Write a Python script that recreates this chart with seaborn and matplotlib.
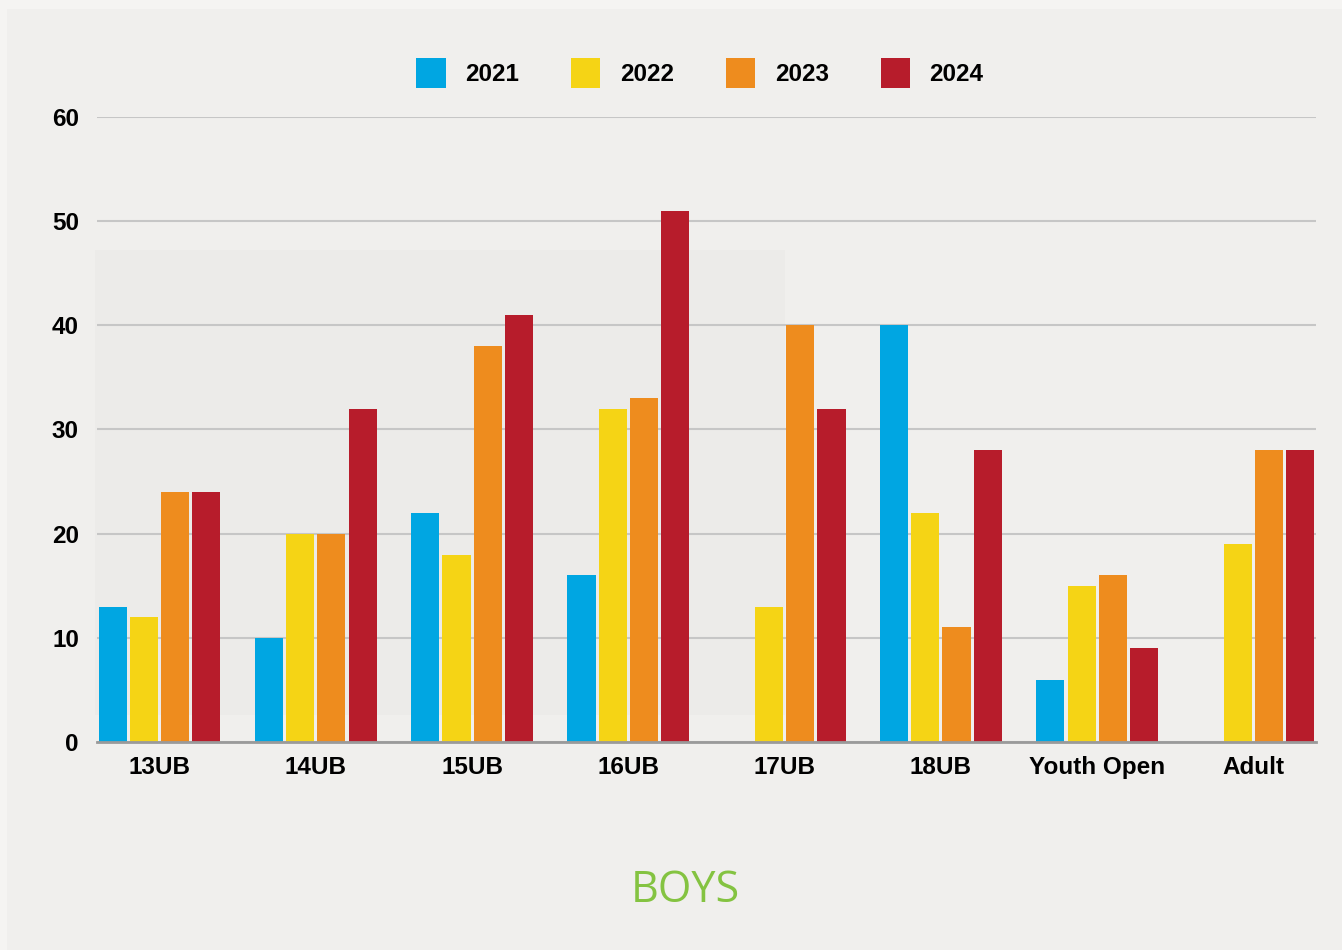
import pandas as pd
import matplotlib.pyplot as plt
import matplotlib.patches as mpatches
import seaborn as sns

categories = ['13UB', '14UB', '15UB', '16UB', '17UB', '18UB', 'Youth Open', 'Adult']
years = ['2021', '2022', '2023', '2024']
v2021 = [13, 10, 22, 16, None, 40, 6, None]
v2022 = [12, 20, 18, 32, 13, 22, 15, 19]
v2023 = [24, 20, 38, 33, 40, 11, 16, 28]
v2024 = [24, 32, 41, 51, 32, 28, 9, 28]
colors = ['#00a6e2', '#f5d415', '#ee8c1e', '#b71c2b']

BG = '#f0efed'

rows = []
for year, vals in zip(years, [v2021, v2022, v2023, v2024]):
    for cat, v in zip(categories, vals):
        rows.append([cat, year, v])
df = pd.DataFrame(rows, columns=['category', 'year', 'count'])

sns.set_style('white')
plt.rcParams['font.family'] = ['Liberation Sans', 'DejaVu Sans']

fig = plt.figure(figsize=(13.42, 9.5), dpi=100, facecolor='#f5f4f2')
# inner panel + faint shaded block behind the left half
fig.patches.append(mpatches.Rectangle((7 / 1342, 0), 1 - 7 / 1342, 1 - 9 / 950,
                                      transform=fig.transFigure, facecolor=BG,
                                      edgecolor='none', zorder=-10))
fig.patches.append(mpatches.Rectangle((95 / 1342, 1 - 715 / 950), 690 / 1342, 465 / 950,
                                      transform=fig.transFigure, facecolor='#ecebe9',
                                      edgecolor='none', zorder=-5))
ax = fig.add_axes([97 / 1342, 208 / 950, 1219 / 1342, 625 / 950])
ax.set_facecolor('none')

sns.barplot(data=df, x='category', y='count', hue='year', palette=colors,
            width=0.8, gap=0.1, ax=ax, saturation=1, legend=True, zorder=3,
            edgecolor='none', linewidth=0)

ax.set_ylim(0, 60)
ax.set_xlim(-0.4, 7.4)
ax.set_yticks([0, 10, 20, 30, 40, 50, 60])
ax.yaxis.grid(True, color='#c6c6c6', linewidth=1.5, zorder=0)
ax.set_axisbelow(True)
for s in ['top', 'right', 'left']:
    ax.spines[s].set_visible(False)
ax.spines['bottom'].set_color('#9a9a9a')
ax.spines['bottom'].set_linewidth(2)
ax.spines['bottom'].set_zorder(4)
ax.tick_params(axis='both', length=0, labelsize=17.5, colors='black')
ax.tick_params(axis='y', pad=13)
ax.tick_params(axis='x', pad=10)
for lab in ax.get_xticklabels() + ax.get_yticklabels():
    lab.set_fontweight('bold')
ax.set_xlabel('')
ax.set_ylabel('')

handles, labels = ax.get_legend_handles_labels()
ax.legend(handles, labels, loc='center', bbox_to_anchor=(700 / 1342, 1 - 73 / 950),
          bbox_transform=fig.transFigure, ncol=4, frameon=False, labelcolor='black',
          prop={'size': 17.5, 'weight': 'bold'}, handlelength=1.2, handleheight=1.5,
          handletextpad=0.8, columnspacing=2.15)

fig.text(685 / 1342, 1 - 891 / 950, 'BOYS', ha='center', va='center',
         fontsize=31, color='#84c341', family=['Open Sans', 'DejaVu Sans'])

fig.savefig('out.png', dpi=100, facecolor=fig.get_facecolor())
